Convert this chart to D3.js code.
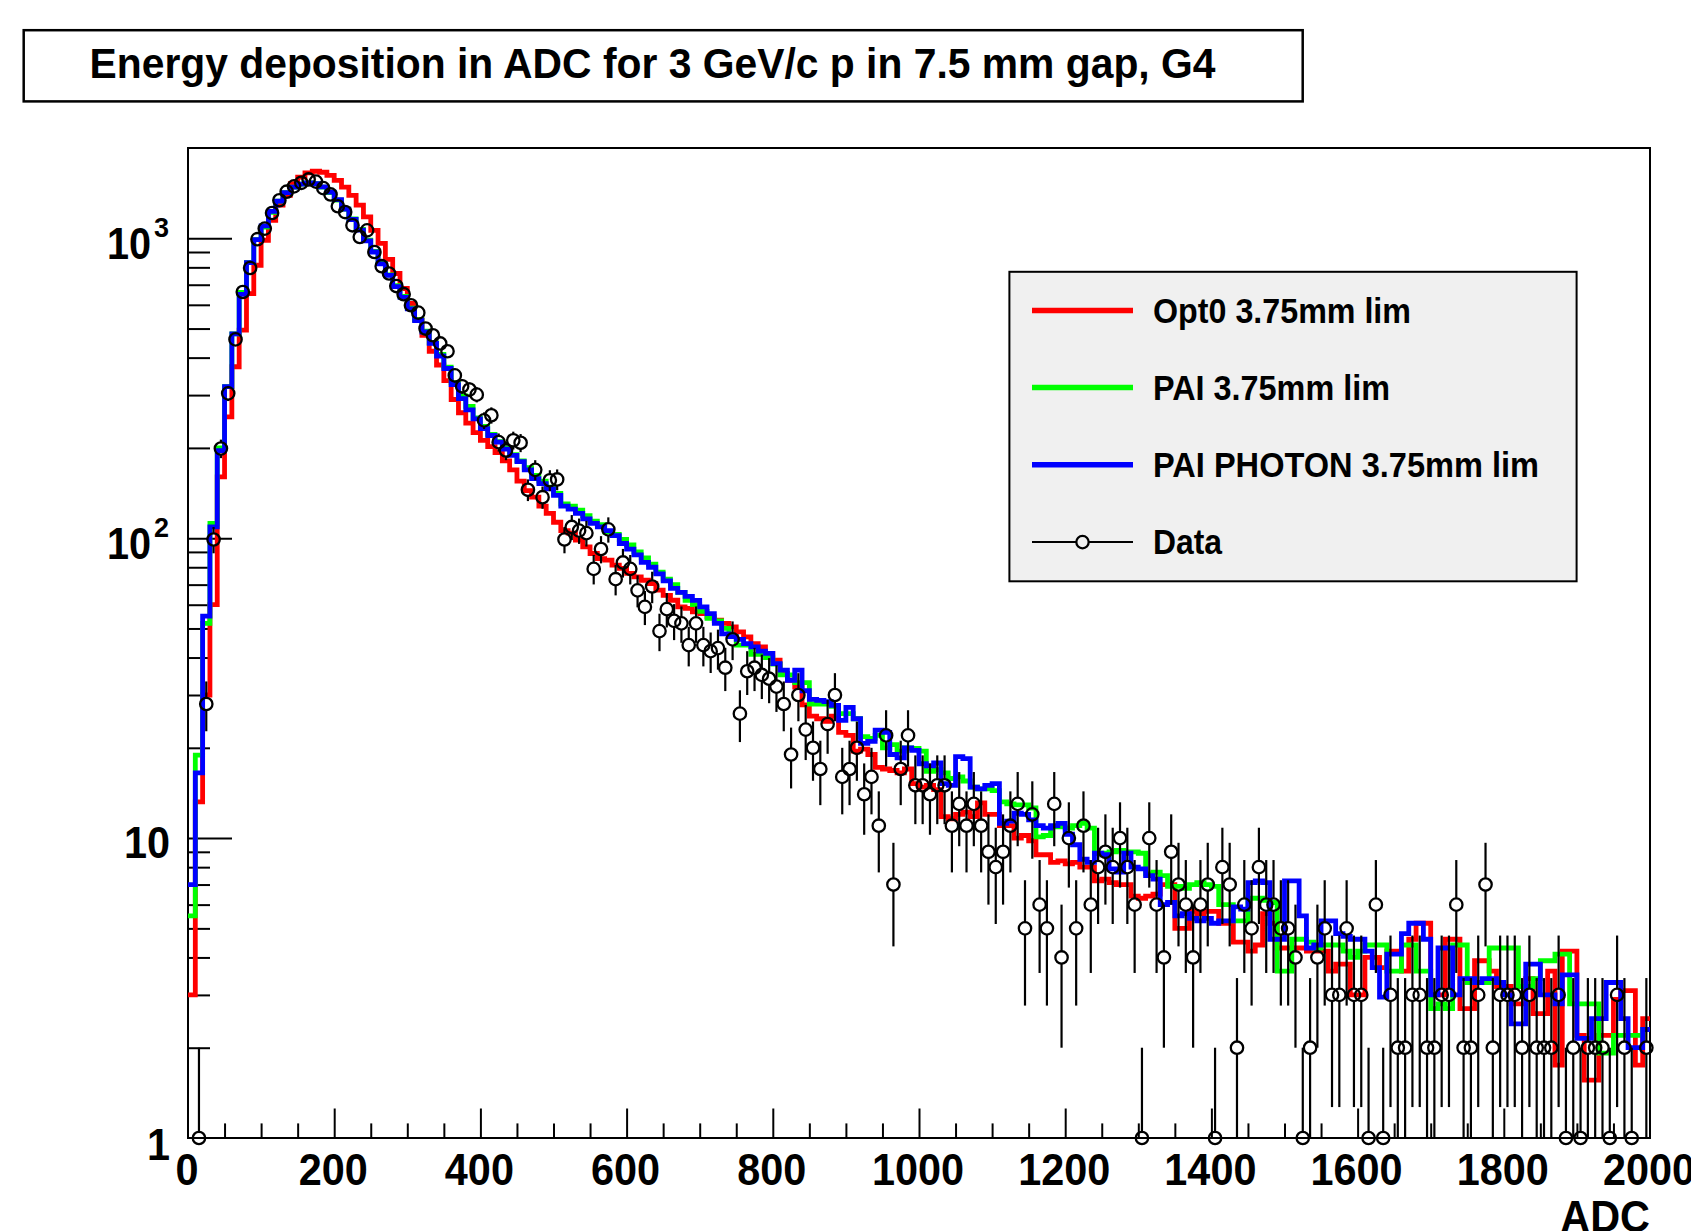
<!DOCTYPE html>
<html><head><meta charset="utf-8">
<script src="https://cdn.jsdelivr.net/npm/d3@7"></script>
<style>
body{margin:0;background:#fff}
svg{display:block}
text{font-family:"Liberation Sans",Arial,Helvetica,sans-serif;font-weight:bold;fill:#000}
</style>
</head><body>
<svg id="c" width="1691" height="1231"></svg>
<script>
// ---- data (200 bins of 10 ADC, 0..2000) ----
const binLow = d3.range(0, 2000, 10);
const binWidth = 10;

const opt0 = [
3.0,13.2,30,60,160,254,373,494,654,813,
985,1148,1289,1390,1520,1600,1653,1673,1660,1620,
1560,1481,1390,1289,1178,1063,961,850,763,680,
606,535,475,420,378,335,290,262,242,225,
212,202,193,181,169,155,144,137,128,121,
113,106,104,98.5,93.6,88.9,85.5,84.5,81.3,79.3,
76.3,74.3,72.4,70.6,67.1,64.5,62.1,59,58.3,56.8,
56,54.7,53.3,52,50.6,48.7,46.9,44.5,43.4,41.3,
39.2,35.4,33.6,31.9,27.8,25.5,25,24.5,25.5,22.5,
22,19.5,19.8,19,17.2,17,16.8,16.5,17,15.2,
14.8,15,14.5,11.8,11.6,12,12.2,11.8,13.1,12,
12,11,11,10,10.2,9.8,8.8,8.8,8.3,8.4,
8.2,8.3,8,8,7.2,7.3,7.1,7,7,6.4,
6.3,6.4,6.5,7,7,5,5,5.7,5.6,5.7,
5.7,5.2,5.2,4.5,4.5,4.2,4.4,5.6,5.2,4.3,
4.3,4.3,4.3,4.2,4.2,4.2,3.6,3.8,3.8,3,
3,4,4,3.7,4.2,4.2,3.6,4.6,5.2,5.2,
3,3,4.6,4.6,2.7,2.7,3.9,3.9,3.6,3.2,
3.2,2.8,2.8,3.4,2.6,2.6,3.6,1.75,4.2,4.2,
2.2,1.56,1.56,2.2,2.2,2.9,3.1,3.1,1.75,2.5];

const pai = [
5.5,18.9,52,112,200,320,480,660,830,990,
1090,1220,1330,1420,1480,1515,1530,1520,1480,1420,
1340,1250,1160,1070,985,905,825,755,695,640,
585,535,490,448,410,372,330,298,275,252,
236,222,210,200,190,181,172,162,155,148,
141,130,128,124,119,114,111,105,103,99,
95,90,86,82,77,73,70,66,62,60,
57,54,53,50,47,44,44,41,41,40,
38,35,35,33,33,28,28,28,27.5,26,
26,25,21.8,21.5,22,20,20.5,19.5,20,19.9,
19.5,16.7,16.9,16.5,15.8,16,15.5,14.8,14.6,14.6,
14.4,13.2,13,12.9,12.9,12.6,10.1,10.2,10.9,10.9,
10.8,11,11.2,10.8,8.9,8.9,9,9.1,9,9,
8.9,7.6,7.7,7.5,6.9,6.9,6.8,7,7.1,7,
6.9,6,6,5.3,5.3,6.3,6.3,6.2,6.1,3.6,
3.6,4.6,4.6,4.5,4.3,4.4,4.4,4.4,4.2,4.0,
4.2,4.4,4.4,4.4,3.6,3.6,4.4,4.4,3.6,3.6,
2.7,2.8,2.7,4.4,4.4,3.3,3.3,3.3,4.3,4.3,
4.3,4.3,3.2,3.2,3.4,3.9,3.9,4.1,4.1,2.8,
2.8,2.8,2.8,1.92,1.92,2.2,2.2,2.2,2.2,2.3];

const paiPhoton = [
7.0,16.5,55,109,196,320,480,650,830,990,
1100,1230,1330,1420,1480,1515,1530,1520,1485,1425,
1345,1250,1155,1065,980,900,822,752,690,635,
582,532,487,446,405,368,325,292,268,250,
232,220,209,198,189,180,169,158,152,146,
139,128,125,121,116,112,109,106,102,96,
92,88,83,80,76,72,68,66,64,62,
59,56,52,48,47,46,44.5,43.4,42,41.3,
38.2,36.3,33.6,36.3,31,29,28.8,28.5,27.7,24.7,
27.3,25,20.7,21,22.9,22.5,19,18.5,20,19.6,
17.7,17.4,17.8,15.2,15,18.7,18.4,14.8,14.6,15,
15.2,11.2,11.4,12.1,12,11.5,11,10.8,11,11.2,
10.3,9.5,8.5,8.3,8.9,8.8,7.9,7.7,8.9,8,
7.9,7.5,7.3,6,6.1,5.5,5.6,5.4,5.3,5.4,
5.2,5.3,5.3,5.9,5.8,7.1,7.2,7.1,4.6,4.6,
7.2,7.2,5.5,4.3,4.4,5.3,5.3,4.8,4.7,4.6,
4.6,4.2,3.7,2.95,4.1,4.1,4.8,5.2,5.2,4.6,
3,4.3,4.3,3,3.4,3.4,3.3,3.4,3.4,3.3,
3.0,2.4,2.4,3.8,3.8,3,3,2.8,3.5,3.5,
2.15,2.15,2.5,2.5,3.3,3.3,2.5,2,2,2.3];

const dataCounts = [
0,1,28,99,199,304,460,662,796,993,
1077,1214,1339,1430,1490,1531,1571,1545,1470,1400,
1279,1223,1105,1010,1063,900,807,763,693,651,
598,565,500,475,446,420,349,321,313,301,
247,257,209,196,212,208,145,169,137,156,
157,99,109,106,104,79,92,107,73,83,
79,67,59,69,49,58,53,52,44,52,
44,42,43,37,46,26,36,37,35,34,
32,28,19,30,23,20,17,24,30,16,
17,20,14,16,11,22,7,17,22,15,
15,14,15,15,11,13,11,13,11,9,
8,9,11,13,5,12,6,5,13,4,
10,5,11,6,8,9,8,10,8,6,
1,10,6,4,9,7,6,4,6,7,
1,8,7,2,6,5,8,6,6,5,
5,4,1,2,4,5,3,3,5,3,
3,1,6,1,3,2,2,3,3,2,
2,3,3,6,2,2,3,7,2,3,
3,3,2,3,2,2,2,3,1,2,
1,2,2,2,1,3,2,1,0,2];

const seriesNames = ["Opt0 3.75mm lim", "PAI 3.75mm lim", "PAI PHOTON 3.75mm lim", "Data"];
const seriesColors = ["#ff0000", "#00ff00", "#0000ff", "#000000"];
const xTickValues = [0,200,400,600,800,1000,1200,1400,1600,1800,2000];
const xTickLabels = ["0","200","400","600","800","1000","1200","1400","1600","1800","2000"];
const yTickValues = [1,10,100,1000];
const yTickBase = ["1","10","10","10"];
const yTickExp = ["","","2","3"];
const titleText = "Energy deposition in ADC for 3 GeV/c p in 7.5 mm gap, G4";
const xAxisTitle = "ADC";

// ---- layout ----
const svg = d3.select("#c");
const L = 188, R = 1650, T = 148, B = 1138;
const x = d3.scaleLinear().domain([0, 2000]).range([L, R]);
const y = d3.scaleLog().domain([1, 2000]).range([B, T]);

function squeeze(t, f){ const w = t.node().getComputedTextLength(); t.attr("textLength", w*f).attr("lengthAdjust","spacingAndGlyphs"); return t; }

svg.append("rect").attr("width",1691).attr("height",1231).attr("fill","#fff");

// title box
svg.append("rect").attr("x",23.7).attr("y",30.2).attr("width",1279).attr("height",71.2)
  .attr("fill","#fff").attr("stroke","#000").attr("stroke-width",2.5);
svg.append("text").attr("x",89.5).attr("y",78).attr("font-size",42)
  .attr("textLength",1126).attr("lengthAdjust","spacingAndGlyphs").text(titleText);

// frame
svg.append("rect").attr("x",L).attr("y",T).attr("width",R-L).attr("height",B-T)
  .attr("fill","#fff").attr("stroke","#000").attr("stroke-width",2);

svg.append("clipPath").attr("id","pc").append("rect")
  .attr("x",L).attr("y",T).attr("width",R-L).attr("height",B-T);

// axes ticks
function styleAxis(g){ g.select(".domain").remove(); g.selectAll("line").attr("stroke","#000").attr("stroke-width",2); g.selectAll("text").remove(); }
const xMinor = d3.range(50, 2000, 50).filter(v => v % 200 !== 0);
svg.append("g").attr("transform",`translate(0,${B})`)
  .call(d3.axisTop(x).tickValues(xTickValues.slice(1,-1)).tickSize(29.5).tickFormat(""))
  .call(styleAxis);
svg.append("g").attr("transform",`translate(0,${B})`)
  .call(d3.axisTop(x).tickValues(xMinor).tickSize(14.6).tickFormat(""))
  .call(styleAxis);
const yMinor = [];
[1,10,100,1000].forEach(d => { for (let k=2;k<=9;k++){ const v=d*k; if (v<2000) yMinor.push(v);} });
svg.append("g").attr("transform",`translate(${L},0)`)
  .call(d3.axisRight(y).tickValues(yTickValues.slice(1)).tickSize(44).tickFormat(""))
  .call(styleAxis);
svg.append("g").attr("transform",`translate(${L},0)`)
  .call(d3.axisRight(y).tickValues(yMinor).tickSize(22).tickFormat(""))
  .call(styleAxis);

// tick labels
xTickValues.forEach((v,i) => {
  const t = svg.append("text").attr("x", x(v) - 1).attr("y", 1185).attr("font-size",45)
    .attr("text-anchor","middle").text(xTickLabels[i]);
  squeeze(t, 0.92);
});
yTickValues.forEach((v,i) => {
  if (yTickExp[i]) {
    // base "10" and superscript exponent as separate texts
    const tb = svg.append("text").attr("x",151).attr("y", y(v) + 21).attr("font-size",44)
      .attr("text-anchor","end").text(yTickBase[i]);
    squeeze(tb, 0.9);
    svg.append("text").attr("x",154).attr("y", y(v) - 1).attr("font-size",27)
      .attr("text-anchor","start").text(yTickExp[i]);
  } else {
    const t = svg.append("text").attr("x",170).attr("font-size",45).attr("text-anchor","end")
      .attr("y", y(v) + (v === 1 ? 22 : 20)).text(yTickBase[i]);
    squeeze(t, 0.92);
  }
});
const at = svg.append("text").attr("x",1650).attr("y",1232).attr("font-size",45)
  .attr("text-anchor","end").text(xAxisTitle);
squeeze(at, 0.92);

// histograms
const plot = svg.append("g").attr("clip-path","url(#pc)");
const line = d3.line().x(d => x(d[0])).y(d => y(d[1])).curve(d3.curveStepAfter);
[opt0, pai, paiPhoton].forEach((arr, si) => {
  const pts = binLow.map((lo,i) => [lo, arr[i]]);
  pts.push([2000, arr[arr.length-1]]);
  plot.append("path").attr("d", line(pts)).attr("fill","none")
    .attr("stroke", seriesColors[si]).attr("stroke-width",4.8)
    .attr("stroke-linejoin","miter").attr("stroke-linecap","butt");
});

// data points with error bars
const r = 6.2;
const dg = svg.append("g");
binLow.forEach((lo,i) => {
  const v = dataCounts[i];
  if (v <= 0) return;
  const cx = x(lo + binWidth/2), cy = y(v);
  const e = Math.sqrt(v);
  const yt = y(v + e);
  const yb = (v - e) > 1 ? y(v - e) : B;
  if (cy - r > yt) dg.append("line").attr("x1",cx).attr("x2",cx).attr("y1",yt).attr("y2",cy-r)
    .attr("stroke","#000").attr("stroke-width",2.2);
  if (yb > cy + r) dg.append("line").attr("x1",cx).attr("x2",cx).attr("y1",cy+r).attr("y2",yb)
    .attr("stroke","#000").attr("stroke-width",2.2);
  dg.append("circle").attr("cx",cx).attr("cy",cy).attr("r",r)
    .attr("fill","none").attr("stroke","#000").attr("stroke-width",2.3);
});

// legend
const lg = svg.append("g");
lg.append("rect").attr("x",1009.4).attr("y",271.8).attr("width",567.2).attr("height",309.5)
  .attr("fill","#f0f0f0").attr("stroke","#000").attr("stroke-width",2);
const legY = [310.6, 387.6, 464.8, 542.1];
const legW = [258, 237, 386, 69];
seriesNames.forEach((nm,i) => {
  if (i < 3) {
    lg.append("line").attr("x1",1032).attr("x2",1133).attr("y1",legY[i]).attr("y2",legY[i])
      .attr("stroke",seriesColors[i]).attr("stroke-width",5.5);
  } else {
    lg.append("line").attr("x1",1032).attr("x2",1133).attr("y1",legY[i]).attr("y2",legY[i])
      .attr("stroke","#000").attr("stroke-width",2);
    lg.append("circle").attr("cx",1082.5).attr("cy",legY[i]).attr("r",r)
      .attr("fill","#f0f0f0").attr("stroke","#000").attr("stroke-width",2.3);
  }
  lg.append("text").attr("x",1153).attr("y",legY[i]+12).attr("font-size",34.5)
    .attr("textLength",legW[i]).attr("lengthAdjust","spacingAndGlyphs").text(nm);
});
</script>
</body></html>
